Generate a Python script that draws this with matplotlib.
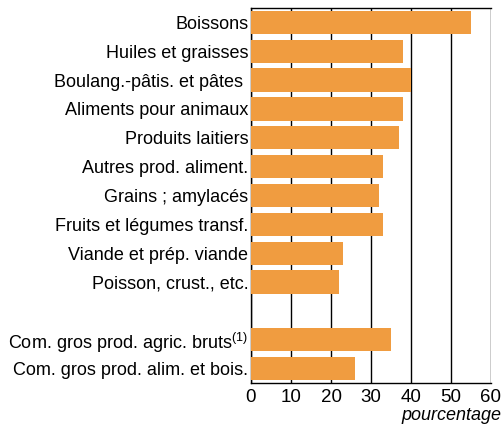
import matplotlib
matplotlib.use("Agg")
import matplotlib.pyplot as plt
import numpy as np

plt.rcParams['font.family'] = ['Liberation Sans', 'DejaVu Sans']
plt.rcParams['mathtext.fontset'] = 'custom'
plt.rcParams['mathtext.rm'] = 'Liberation Sans'

categories = [
    "Boissons",
    "Huiles et graisses",
    "Boulang.-pâtis. et pâtes ",
    "Aliments pour animaux",
    "Produits laitiers",
    "Autres prod. aliment.",
    "Grains ; amylacés",
    "Fruits et légumes transf.",
    "Viande et prép. viande",
    "Poisson, crust., etc.",
    "",
    "Com. gros prod. agric. bruts$^{\\mathrm{(1)}}$",
    "Com. gros prod. alim. et bois.",
]
values = [55, 38, 40, 38, 37, 33, 32, 33, 23, 22, np.nan, 35, 26]
xticks = [0, 10, 20, 30, 40, 50, 60]

fig = plt.figure(figsize=(5.03, 4.26), dpi=100)
ax = fig.add_axes([251 / 503, 1 - 383 / 426, 240 / 503, 375 / 426])

pos = np.arange(len(categories))
vals = [0 if np.isnan(v) else v for v in values]
ax.barh(pos, vals, height=0.81, color="#F09C40", zorder=3)

ax.set_ylim(len(categories) - 0.5, -0.5)
ax.set_xlim(0, 60)
ax.set_yticks(pos)
ax.set_yticklabels(categories, fontsize=13)
ax.set_xticks(xticks)
ax.set_xticklabels([str(t) for t in xticks], fontsize=13.5)
ax.tick_params(axis="y", length=0, pad=2)
ax.tick_params(axis="x", length=0, pad=4)
ax.xaxis.grid(True, color="black", linewidth=1, zorder=0)

for s in ["left", "bottom", "top", "right"]:
    ax.spines[s].set_linewidth(1)
ax.spines["right"].set_visible(False)

fig.text(501 / 503, 1 - 416 / 426, "pourcentage", ha="right", va="center",
         fontsize=13, style="italic")

fig.savefig("out.png", dpi=100)
